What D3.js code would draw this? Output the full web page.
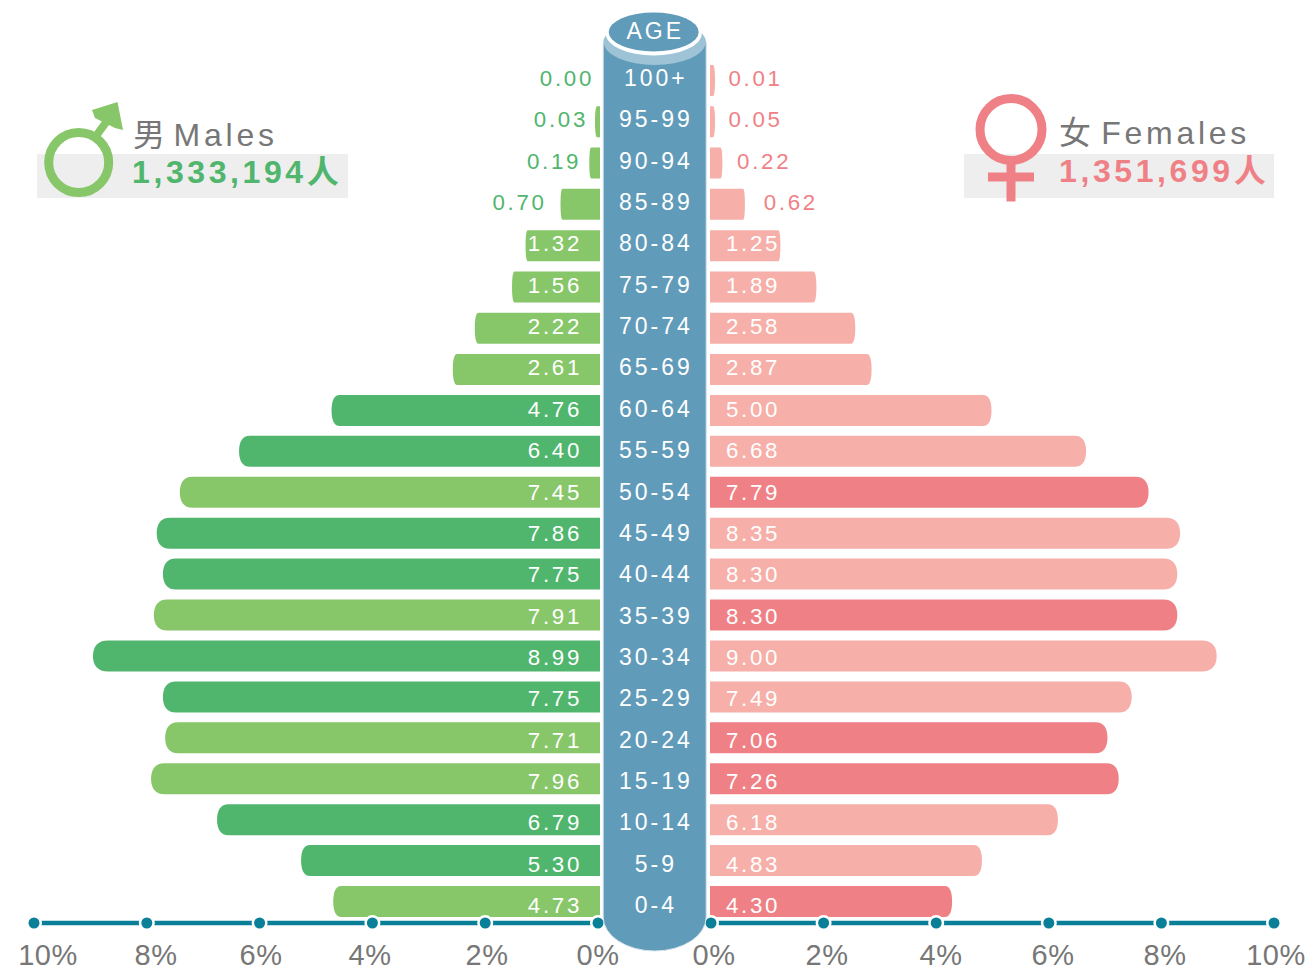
<!DOCTYPE html>
<html>
<head>
<meta charset="utf-8">
<script src="https://cdn.jsdelivr.net/npm/d3@7/dist/d3.min.js"></script>
<style>
html,body{margin:0;padding:0;background:#fff;}
svg{display:block;}
text{font-family:"Liberation Sans",Arial,"Noto Sans CJK SC",sans-serif;}
</style>
</head>
<body>
<svg id="chart" width="1307" height="971"></svg>
<script>
// Population pyramid: share of each age band, by sex (percent)
const ageGroups = ["100+","95-99","90-94","85-89","80-84","75-79","70-74","65-69","60-64","55-59","50-54","45-49","40-44","35-39","30-34","25-29","20-24","15-19","10-14","5-9","0-4"];
const maleLabels = ["0.00","0.03","0.19","0.70","1.32","1.56","2.22","2.61","4.76","6.40","7.45","7.86","7.75","7.91","8.99","7.75","7.71","7.96","6.79","5.30","4.73"];
const femaleLabels = ["0.01","0.05","0.22","0.62","1.25","1.89","2.58","2.87","5.00","6.68","7.79","8.35","8.30","8.30","9.00","7.49","7.06","7.26","6.18","4.83","4.30"];
// Emphasised rows use the stronger tone of each side
const maleStrong = ["60-64","55-59","45-49","40-44","30-34","25-29","10-14","5-9"];
const femaleStrong = ["50-54","35-39","20-24","15-19","0-4"];
const axisTicks = [0,2,4,6,8,10];
const maleTotal = "1,333,194人";
const femaleTotal = "1,351,699人";

const C = {
  greenDark:"#50b56d", greenLight:"#88c66a",
  pinkDark:"#ef8186", pinkLight:"#f6afa9",
  column:"#619bba", columnLight:"#9ec2d6",
  axis:"#0a8098", grey:"#777777", band:"#eeeeee"
};

const svg = d3.select("#chart");
// Row tops: the upper rows sit on a slightly wider pitch than the lower ones
const rowTop = d3.scaleLinear().domain([0,7,20]).range([65,354,886]);
const BAR_H = 31;
const y = a => rowTop(ageGroups.indexOf(a));
// Text baselines follow their own row pitch
const textY = d3.scalePoint().domain(ageGroups).range([86,913]);
const xL = d3.scaleLinear().domain([0,10]).range([598,34]);
const xR = d3.scaleLinear().domain([0,10]).range([711,1274]);
const MIN_W = 5;

// Bar with a curved cap on its outer end; the cap grows with bar length
function barPath(inner, outer, top, h){
  const dir = outer < inner ? -1 : 1;
  const rr = Math.max(2, Math.abs(outer-inner)*0.03);
  const p = d3.path();
  p.moveTo(inner, top);
  p.lineTo(outer-dir*rr, top);
  p.bezierCurveTo(outer-dir*rr*0.3, top, outer, top+h*0.2, outer, top+h/2);
  p.bezierCurveTo(outer, top+h*0.8, outer-dir*rr*0.3, top+h, outer-dir*rr, top+h);
  p.lineTo(inner, top+h);
  p.closePath();
  return p.toString();
}

// Totals panels behind the sex symbols
svg.append("rect").attr("x",37).attr("y",154).attr("width",311).attr("height",44).attr("fill",C.band);
svg.append("rect").attr("x",964).attr("y",154).attr("width",310).attr("height",44).attr("fill",C.band);

function drawSide(labels, strong, x, inner, dark, light, isLeft){
  const g = svg.append("g");
  const labelsG = svg.append("g");
  const dir = isLeft ? -1 : 1;
  ageGroups.forEach((a,i)=>{
    const v = +labels[i];
    const raw = Math.abs(x(v)-x(0));
    const w = v>0 ? Math.max(raw,MIN_W) : 0;
    if(v>0){
      g.append("path")
        .attr("d",barPath(inner,inner+dir*w,y(a),BAR_H))
        .attr("fill",strong.includes(a)?dark:light);
    }
    const inside = v>=1;
    const gap = isLeft ? 6+0.2*w : 12.5+0.18*w;
    const tx = inside ? inner+(isLeft?-18:16) : inner+dir*(w+gap);
    labelsG.append("text")
      .attr("x",tx)
      .attr("y",textY(a))
      .attr("text-anchor",isLeft?"end":"start")
      .attr("font-size",22.3).attr("letter-spacing",2.7)
      .attr("fill",inside?"#fff":dark)
      .text(labels[i]);
  });
}
drawSide(maleLabels,maleStrong,xL,600,C.greenDark,C.greenLight,true);
drawSide(femaleLabels,femaleStrong,xR,710,C.pinkDark,C.pinkLight,false);

// Axis baselines with dots at every tick
[xL,xR].forEach(x=>{
  const g = svg.append("g");
  axisTicks.slice(0,-1).forEach((t,i)=>{
    g.append("line").attr("x1",x(t)).attr("x2",x(axisTicks[i+1])).attr("y1",923).attr("y2",923)
      .attr("stroke",C.axis).attr("stroke-width",4.5);
  });
  axisTicks.forEach(t=>{
    g.append("circle").attr("cx",x(t)).attr("cy",923).attr("r",8).attr("fill","#fff");
    g.append("circle").attr("cx",x(t)).attr("cy",923).attr("r",5.5).attr("fill",C.axis);
  });
});

// Tick labels beneath the axes
const tickY = 964.5;
const leftTickX = {10:48,8:156,6:261,4:370,2:487,0:598};
const rightTickX = {0:714,2:827,4:941,6:1053,8:1165,10:1276};
axisTicks.forEach(t=>{
  svg.append("text").attr("x",leftTickX[t]).attr("y",tickY).attr("text-anchor","middle")
    .attr("font-size",29).attr("letter-spacing",0.5).attr("fill",C.grey).text(t+"%");
  svg.append("text").attr("x",rightTickX[t]).attr("y",tickY).attr("text-anchor","middle")
    .attr("font-size",29).attr("letter-spacing",0.5).attr("fill",C.grey).text(t+"%");
});

// Central age column with a cylinder top and rounded base
const cx = 654.7;
const col = svg.append("g");
const halfW = 51.5;
col.append("path").attr("d",
  `M${cx-halfW},44 L${cx-halfW},917 A${halfW},34 0 0 0 ${cx+halfW},917 L${cx+halfW},44 A${halfW},24 0 0 0 ${cx-halfW},44 Z`)
  .attr("fill",C.column).attr("stroke","#d3e3ec").attr("stroke-width",1);
col.append("ellipse").attr("cx",cx).attr("cy",42).attr("rx",51).attr("ry",23).attr("fill",C.columnLight);
col.append("ellipse").attr("cx",cx-1).attr("cy",33.5).attr("rx",48).attr("ry",22).attr("fill","#fff");
col.append("ellipse").attr("cx",cx-1).attr("cy",32).attr("rx",45).attr("ry",19.5).attr("fill",C.column);
col.append("text").attr("x",cx+0.5).attr("y",39).attr("text-anchor","middle")
  .attr("font-size",23).attr("letter-spacing",3).attr("fill","#fff").text("AGE");
ageGroups.forEach(a=>{
  col.append("text").attr("x",cx+1.2).attr("y",textY(a))
    .attr("text-anchor","middle").attr("font-size",23).attr("letter-spacing",3)
    .attr("fill","#fff").text(a);
});

// Male symbol
const male = svg.append("g").attr("fill","none").attr("stroke",C.greenLight).attr("stroke-width",9);
male.append("circle").attr("cx",78.7).attr("cy",162.5).attr("r",30);
male.append("line").attr("x1",96).attr("y1",136).attr("x2",107).attr("y2",121).attr("stroke-width",8);
svg.append("path").attr("d","M92,110 L117.5,102 L123,130 L115,128 L95,118 Z").attr("fill",C.greenLight);

// Female symbol
const female = svg.append("g").attr("fill","none").attr("stroke",C.pinkDark).attr("stroke-width",9);
female.append("circle").attr("cx",1011).attr("cy",129.5).attr("r",31);
female.append("line").attr("x1",1011).attr("y1",161).attr("x2",1011).attr("y2",201.5);
female.append("line").attr("x1",988).attr("y1",177).attr("x2",1034).attr("y2",177);

// Legend titles and totals
svg.append("text").attr("x",133).attr("y",146).attr("font-size",32).attr("letter-spacing",3.8).attr("word-spacing",-8)
  .attr("fill",C.grey).text("男 Males");
svg.append("text").attr("x",132).attr("y",183).attr("font-size",32).attr("font-weight","bold").attr("letter-spacing",3.6)
  .attr("fill",C.greenDark).text(maleTotal);
svg.append("text").attr("x",1059).attr("y",144).attr("font-size",32).attr("letter-spacing",3.7).attr("word-spacing",-6)
  .attr("fill",C.grey).text("女 Females");
svg.append("text").attr("x",1059).attr("y",182).attr("font-size",32).attr("font-weight","bold").attr("letter-spacing",3.6)
  .attr("fill",C.pinkDark).text(femaleTotal);
</script>
</body>
</html>
